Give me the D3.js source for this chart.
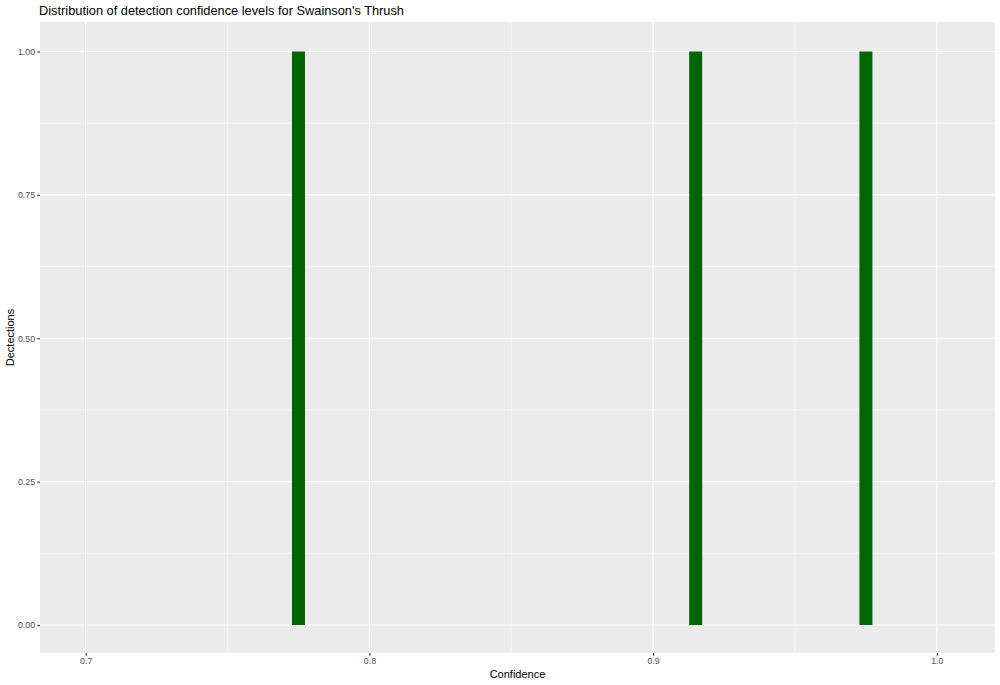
<!DOCTYPE html>
<html><head><meta charset="utf-8">
<script src="https://cdn.jsdelivr.net/npm/d3@7"></script>
<style>body{margin:0;background:#fff;} text{font-family:"Liberation Sans",Arial,sans-serif;}</style>
</head><body>
<svg id="c" width="1000" height="685"></svg>
<script>
const binCenters = [0.775, 0.915, 0.975];
const counts = [1, 1, 1];
const binWidth = 0.00458;
const xTicks = [0.7, 0.8, 0.9, 1.0];
const xTickLabels = ["0.7", "0.8", "0.9", "1.0"];
const xMinor = [0.75, 0.85, 0.95];
const yTicks = [0, 0.25, 0.5, 0.75, 1.0];
const yTickLabels = ["0.00", "0.25", "0.50", "0.75", "1.00"];
const yMinor = [0.125, 0.375, 0.625, 0.875];

const svg = d3.select("#c");
const L = 40, R = 995, T = 22, B = 653;
const x = d3.scaleLinear().domain([0.6839, 1.0205]).range([L, R]);
const y = d3.scaleLinear().domain([-0.0488, 1.0514]).range([B, T]);

svg.append("rect").attr("x", L).attr("y", T).attr("width", R - L).attr("height", B - T).attr("fill", "#ebebeb");
const g = svg.append("g");
g.selectAll(".xm").data(xMinor).join("line").attr("x1", d => x(d)).attr("x2", d => x(d)).attr("y1", T).attr("y2", B).attr("stroke", "#fff").attr("stroke-width", 0.55);
g.selectAll(".ym").data(yMinor).join("line").attr("y1", d => y(d)).attr("y2", d => y(d)).attr("x1", L).attr("x2", R).attr("stroke", "#fff").attr("stroke-width", 0.55);
g.selectAll(".xM").data(xTicks).join("line").attr("x1", d => x(d)).attr("x2", d => x(d)).attr("y1", T).attr("y2", B).attr("stroke", "#fff").attr("stroke-width", 1.1);
g.selectAll(".yM").data(yTicks).join("line").attr("y1", d => y(d)).attr("y2", d => y(d)).attr("x1", L).attr("x2", R).attr("stroke", "#fff").attr("stroke-width", 1.1);

svg.selectAll(".bar").data(binCenters).join("rect")
  .attr("x", (d) => x(d - binWidth / 2))
  .attr("width", d => x(d + binWidth / 2) - x(d - binWidth / 2))
  .attr("y", (d, i) => y(counts[i]))
  .attr("height", (d, i) => y(0) - y(counts[i]))
  .attr("fill", "#006400");

const xAxis = d3.axisBottom(x).tickValues(xTicks).tickFormat((d, i) => xTickLabels[i]).tickSize(2.75).tickPadding(2.2);
const gx = svg.append("g").attr("transform", `translate(0,${B})`).call(xAxis);
const yAxis = d3.axisLeft(y).tickValues(yTicks).tickFormat((d, i) => yTickLabels[i]).tickSize(2.75).tickPadding(2.2);
const gy = svg.append("g").attr("transform", `translate(${L},0)`).call(yAxis);
[gx, gy].forEach(a => {
  a.select(".domain").remove();
  a.selectAll(".tick line").attr("stroke", "#333").attr("stroke-width", 1.1);
  a.selectAll(".tick text").attr("fill", "#4d4d4d").style("font-size", "8.8px");
});

svg.append("text").attr("x", 39).attr("y", 15).text("Distribution of detection confidence levels for Swainson's Thrush").style("font-size", "12.8px").attr("fill", "#000");
svg.append("text").attr("x", (L + R) / 2).attr("y", 678).attr("text-anchor", "middle").text("Confidence").style("font-size", "11px");
svg.append("text").attr("transform", `translate(14,${(T + B) / 2}) rotate(-90)`).attr("text-anchor", "middle").text("Dectections").style("font-size", "11px");
</script>
</body></html>
